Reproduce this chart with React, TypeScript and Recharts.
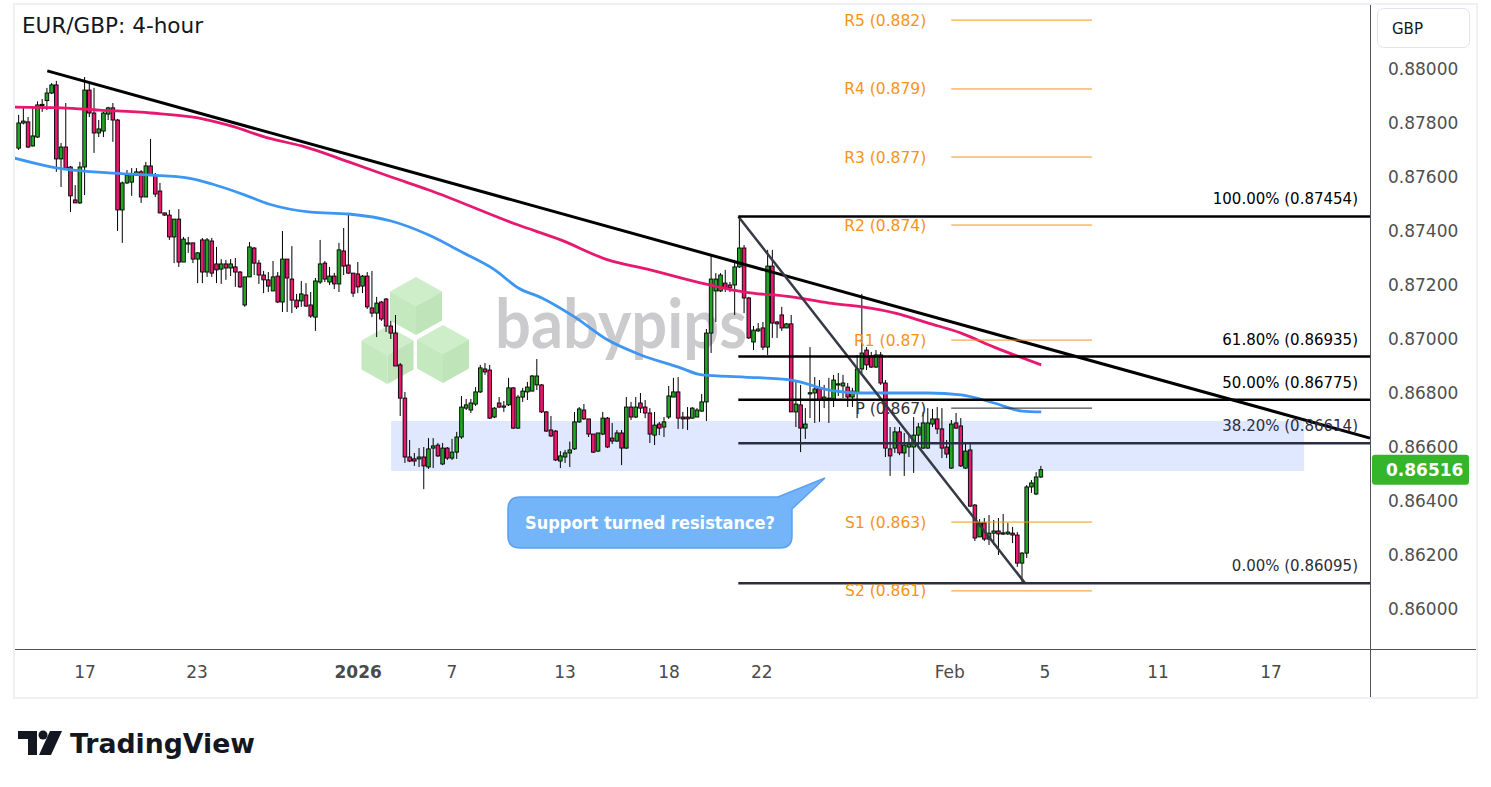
import React from "react";
import { ComposedChart, Bar, Line, XAxis, YAxis, ReferenceLine, ReferenceArea } from "recharts";

const FONT = "DejaVu Sans";
const GREEN = "#22a523";
const PINK = "#e8186f";

// 4-hour candles
const opens = [
  0.87707, 0.878, 0.87804, 0.87715, 0.87748, 0.87867, 0.87883, 0.87911, 0.87941, 0.87667,
  0.87711, 0.87637, 0.87515, 0.87504, 0.87637, 0.87922, 0.87837, 0.87763, 0.8777, 0.87833,
  0.87856, 0.87811, 0.87478, 0.87578, 0.87581, 0.87607, 0.87619, 0.87526, 0.87641, 0.87607,
  0.87548, 0.87467, 0.87459, 0.87378, 0.87444, 0.87285, 0.87352, 0.87356, 0.87296, 0.87367,
  0.87248, 0.87363, 0.87278, 0.87259, 0.87278, 0.87263, 0.87267, 0.87248, 0.87126, 0.8723,
  0.87337, 0.87281, 0.87237, 0.87219, 0.87178, 0.87233, 0.87137, 0.87296, 0.87222, 0.87144,
  0.87141, 0.87163, 0.87126, 0.87081, 0.87211, 0.87281, 0.87211, 0.87233, 0.87204, 0.87326,
  0.87274, 0.87244, 0.87241, 0.87196, 0.87233, 0.87115, 0.87096, 0.87137, 0.87148, 0.87048,
  0.87022, 0.86904, 0.86781, 0.86563, 0.86556, 0.86556, 0.86563, 0.86526, 0.86596, 0.86607,
  0.86537, 0.86596, 0.86559, 0.86581, 0.86637, 0.86744, 0.86737, 0.86759, 0.86804, 0.86889,
  0.86885, 0.86711, 0.86763, 0.86752, 0.86756, 0.86819, 0.8667, 0.86785, 0.86804, 0.86807,
  0.8683, 0.8683, 0.8673, 0.86663, 0.86659, 0.86548, 0.86563, 0.86578, 0.86593, 0.86693,
  0.86737, 0.86704, 0.86648, 0.86585, 0.86648, 0.86707, 0.86633, 0.86622, 0.86652, 0.86596,
  0.86748, 0.86711, 0.86763, 0.86748, 0.86726, 0.86644, 0.86685, 0.86674, 0.86711, 0.86785,
  0.86804, 0.86711, 0.86711, 0.86707, 0.86711, 0.86733, 0.86767, 0.87022, 0.87178, 0.87178,
  0.87207, 0.872, 0.872, 0.87267, 0.87337, 0.87152, 0.86989, 0.8703, 0.87041, 0.8697,
  0.8727, 0.87063, 0.87089, 0.87041, 0.87056, 0.8673, 0.86756, 0.8667, 0.868, 0.868,
  0.86819, 0.86774, 0.86781, 0.86778, 0.86833, 0.86826, 0.86822, 0.86785, 0.86804, 0.86889,
  0.86959, 0.86937, 0.86896, 0.86941, 0.86837, 0.86593, 0.86596, 0.86656, 0.86578, 0.866,
  0.866, 0.86644, 0.86596, 0.86596, 0.86685, 0.86704, 0.86667, 0.866, 0.86522, 0.86689,
  0.86678, 0.86522, 0.86589, 0.86385, 0.86267, 0.86319, 0.86259, 0.86281, 0.86289, 0.86281,
  0.86278, 0.86281, 0.86274, 0.8617, 0.86207, 0.86452, 0.86426, 0.86489,
];
const highs = [
  0.8783, 0.87856, 0.87822, 0.87856, 0.8788, 0.87889, 0.8793, 0.87948, 0.87956, 0.87726,
  0.87874, 0.87641, 0.8757, 0.87656, 0.8797, 0.87952, 0.8793, 0.87811, 0.87841, 0.8786,
  0.87874, 0.87815, 0.87583, 0.87626, 0.87633, 0.87633, 0.87626, 0.87656, 0.87741, 0.87615,
  0.87578, 0.87467, 0.87478, 0.87444, 0.87481, 0.87378, 0.87378, 0.87356, 0.87322, 0.87374,
  0.87374, 0.87374, 0.87341, 0.87296, 0.87293, 0.87296, 0.873, 0.87252, 0.8723, 0.87359,
  0.87341, 0.87293, 0.87252, 0.87248, 0.87289, 0.87248, 0.874, 0.87296, 0.87344, 0.87167,
  0.87215, 0.87207, 0.87174, 0.87226, 0.87367, 0.87289, 0.87267, 0.87245, 0.87356, 0.87411,
  0.87463, 0.87244, 0.87285, 0.87237, 0.87248, 0.87252, 0.87156, 0.87141, 0.87152, 0.87067,
  0.87089, 0.86911, 0.86804, 0.86626, 0.86578, 0.86596, 0.866, 0.86633, 0.86633, 0.86615,
  0.86615, 0.866, 0.8663, 0.86656, 0.86789, 0.86778, 0.86778, 0.86822, 0.86904, 0.86911,
  0.86904, 0.86748, 0.86785, 0.8677, 0.86856, 0.86822, 0.86793, 0.86819, 0.86841, 0.86867,
  0.86926, 0.86833, 0.86733, 0.86715, 0.86663, 0.86585, 0.86589, 0.8662, 0.8673, 0.86748,
  0.86759, 0.86704, 0.86648, 0.86652, 0.8673, 0.86711, 0.86689, 0.86663, 0.86663, 0.86785,
  0.86767, 0.86785, 0.868, 0.86774, 0.86744, 0.8673, 0.86693, 0.86711, 0.86826, 0.86856,
  0.86859, 0.8673, 0.86748, 0.86748, 0.86744, 0.86796, 0.87037, 0.87311, 0.87244, 0.87244,
  0.87256, 0.87211, 0.87293, 0.87454, 0.87348, 0.87156, 0.87048, 0.87059, 0.87063, 0.8733,
  0.8733, 0.87067, 0.87119, 0.87059, 0.87089, 0.86841, 0.8683, 0.86744, 0.8697, 0.86859,
  0.86848, 0.8683, 0.86856, 0.86867, 0.86874, 0.86867, 0.86837, 0.86819, 0.86941, 0.87167,
  0.8697, 0.86952, 0.86959, 0.86952, 0.86848, 0.86674, 0.86674, 0.86674, 0.86652, 0.86644,
  0.86711, 0.86689, 0.8673, 0.86744, 0.86741, 0.86748, 0.86744, 0.86626, 0.867, 0.86726,
  0.86707, 0.86615, 0.86615, 0.86389, 0.86333, 0.86337, 0.86348, 0.8633, 0.86337, 0.86352,
  0.86319, 0.86304, 0.86285, 0.86211, 0.86459, 0.86478, 0.86507, 0.8653,
];
const lows = [
  0.877, 0.87795, 0.87707, 0.87713, 0.87745, 0.87841, 0.87848, 0.87907, 0.87619, 0.87563,
  0.87626, 0.8747, 0.87504, 0.875, 0.87533, 0.87822, 0.87689, 0.87748, 0.87748, 0.87811,
  0.8773, 0.874, 0.87356, 0.87574, 0.8753, 0.87604, 0.87504, 0.87526, 0.87604, 0.87526,
  0.87465, 0.87456, 0.87367, 0.87281, 0.87267, 0.87285, 0.87319, 0.87281, 0.87207, 0.87207,
  0.8723, 0.8723, 0.87207, 0.87204, 0.87219, 0.87233, 0.87193, 0.87189, 0.87119, 0.8723,
  0.87237, 0.87204, 0.8717, 0.87174, 0.87178, 0.87133, 0.871, 0.871, 0.87096, 0.87111,
  0.87119, 0.87119, 0.87078, 0.8703, 0.87204, 0.87211, 0.872, 0.87185, 0.87174, 0.87237,
  0.87241, 0.87156, 0.8717, 0.8717, 0.87111, 0.87081, 0.87007, 0.87067, 0.87026, 0.87,
  0.869, 0.86715, 0.86541, 0.86544, 0.8653, 0.86526, 0.86444, 0.86519, 0.86522, 0.86563,
  0.86533, 0.86552, 0.86552, 0.86556, 0.8663, 0.86737, 0.86726, 0.86752, 0.868, 0.86867,
  0.86704, 0.86707, 0.86744, 0.8673, 0.86752, 0.86667, 0.86667, 0.86767, 0.86774, 0.86807,
  0.86811, 0.86726, 0.86656, 0.86637, 0.86548, 0.86522, 0.86541, 0.86526, 0.86589, 0.86689,
  0.867, 0.86637, 0.86578, 0.86581, 0.86644, 0.86596, 0.86611, 0.86619, 0.86533, 0.86593,
  0.867, 0.86707, 0.86726, 0.86707, 0.86615, 0.86607, 0.86644, 0.86637, 0.86704, 0.86785,
  0.86667, 0.86667, 0.86663, 0.86704, 0.86711, 0.8673, 0.86696, 0.86948, 0.87063, 0.87174,
  0.87174, 0.87174, 0.87089, 0.87263, 0.87096, 0.87, 0.86959, 0.87026, 0.86959, 0.86941,
  0.87004, 0.87004, 0.8703, 0.87041, 0.8673, 0.86674, 0.86581, 0.8663, 0.86707, 0.86689,
  0.86693, 0.86744, 0.86689, 0.86748, 0.86789, 0.86781, 0.86748, 0.86748, 0.86707, 0.86874,
  0.86885, 0.86893, 0.86893, 0.8683, 0.86563, 0.86493, 0.86578, 0.8657, 0.86493, 0.86563,
  0.86504, 0.866, 0.86593, 0.86593, 0.86674, 0.86648, 0.86559, 0.86559, 0.86519, 0.86667,
  0.86526, 0.86519, 0.86378, 0.86252, 0.86267, 0.86252, 0.86237, 0.86237, 0.862, 0.86274,
  0.86274, 0.86244, 0.86156, 0.86095, 0.86189, 0.8643, 0.86422, 0.86485,
];
const closes = [
  0.878, 0.87807, 0.87711, 0.87752, 0.87867, 0.87869, 0.87911, 0.87941, 0.87667, 0.87711,
  0.87633, 0.8753, 0.87504, 0.87637, 0.87922, 0.87837, 0.87763, 0.87778, 0.87837, 0.87856,
  0.87811, 0.87478, 0.87578, 0.87607, 0.87611, 0.87619, 0.87526, 0.87641, 0.87607, 0.87537,
  0.87467, 0.87459, 0.87378, 0.87444, 0.87285, 0.8737, 0.87356, 0.87296, 0.87319, 0.87248,
  0.87367, 0.87244, 0.87256, 0.87278, 0.87263, 0.87278, 0.87248, 0.87193, 0.8723, 0.87341,
  0.87281, 0.87237, 0.87219, 0.87196, 0.8723, 0.87137, 0.87296, 0.87226, 0.87144, 0.87119,
  0.87167, 0.87122, 0.87085, 0.87215, 0.87278, 0.87222, 0.87233, 0.87204, 0.8733, 0.8727,
  0.87244, 0.8717, 0.87193, 0.87233, 0.87119, 0.87096, 0.87133, 0.87074, 0.87048, 0.87022,
  0.869, 0.86781, 0.86563, 0.86548, 0.86548, 0.86563, 0.8653, 0.86593, 0.86604, 0.86567,
  0.86596, 0.86559, 0.86581, 0.86637, 0.86748, 0.86756, 0.86763, 0.86804, 0.86893, 0.86878,
  0.86707, 0.86744, 0.86748, 0.86752, 0.86819, 0.8667, 0.86785, 0.86807, 0.86822, 0.86863,
  0.86863, 0.8673, 0.86659, 0.86641, 0.86552, 0.86567, 0.86578, 0.86589, 0.86693, 0.86741,
  0.86704, 0.86648, 0.86581, 0.86652, 0.86707, 0.866, 0.86622, 0.86652, 0.86596, 0.86748,
  0.86711, 0.86748, 0.86744, 0.86726, 0.86648, 0.86681, 0.8667, 0.86693, 0.86789, 0.86804,
  0.86707, 0.86704, 0.86704, 0.86744, 0.86737, 0.86767, 0.87022, 0.87222, 0.87222, 0.87237,
  0.87189, 0.87189, 0.87267, 0.87337, 0.87152, 0.87004, 0.87033, 0.87037, 0.8697, 0.8727,
  0.87059, 0.87056, 0.87041, 0.87056, 0.8673, 0.86759, 0.8667, 0.86685, 0.86801, 0.86815,
  0.86774, 0.86785, 0.86778, 0.86848, 0.86834, 0.86837, 0.86785, 0.86807, 0.86889, 0.86948,
  0.86904, 0.86896, 0.86941, 0.86837, 0.86596, 0.86567, 0.86656, 0.86578, 0.86607, 0.86611,
  0.86644, 0.86674, 0.86689, 0.86689, 0.86704, 0.86667, 0.86596, 0.86574, 0.86685, 0.8667,
  0.8653, 0.86585, 0.86381, 0.86263, 0.86319, 0.86259, 0.86281, 0.86289, 0.86278, 0.86282,
  0.86285, 0.86274, 0.8617, 0.86207, 0.86452, 0.86467, 0.86489, 0.86516,
];

// moving averages (read at a set of candle positions)
const slowMaIdx = [-1, 9, 17, 28, 38, 45, 53, 60, 70, 79, 87, 106, 115, 125, 134, 144, 154, 164, 172, 179, 186, 193, 200, 207, 217];
const slowMaVals = [
  0.87859, 0.87856, 0.87848, 0.87837, 0.87819, 0.87789, 0.87744, 0.87715, 0.87656, 0.876,
  0.87552, 0.87422, 0.87367, 0.87293, 0.87256, 0.87211, 0.87174, 0.87156, 0.87133, 0.87119,
  0.87096, 0.87059, 0.87022, 0.8697, 0.86904,
];
const fastMaIdx = [-1, 7, 19, 28, 36, 41, 48, 53, 62, 70, 79, 87, 94, 101, 106, 111, 118, 125, 132, 140, 145, 154, 164, 172, 179, 193, 200, 207, 213, 217];
const fastMaVals = [
  0.8767, 0.87637, 0.87615, 0.87607, 0.87596, 0.87574, 0.87533, 0.875, 0.8747, 0.87463,
  0.87437, 0.87385, 0.87322, 0.87256, 0.87189, 0.87152, 0.87081, 0.86996, 0.86941, 0.86896,
  0.86867, 0.86859, 0.86848, 0.86811, 0.868, 0.868, 0.86793, 0.86763, 0.86733, 0.8673,
];

const xTicks = [14, 37.8, 72, 91.9, 115.9, 138, 157.7, 197.6, 217.8, 241.8, 265.8];
const xLabels = ["17", "23", "2026", "7", "13", "18", "22", "Feb", "5", "11", "17"];
const priceTicks = [0.86, 0.862, 0.864, 0.866, 0.868, 0.87, 0.872, 0.874, 0.876, 0.878, 0.88];

const trendFrom = { i: 6, p: 0.87993 };
const trendTo = { i: 286.8, p: 0.86633 };
const swingHigh = { i: 152.7, p: 0.87454 };
const swingLow = { i: 213.6, p: 0.86095 };

const fibPct = ["100.00%", "61.80%", "50.00%", "38.20%", "0.00%"];
const fibLevels = [0.87454, 0.86935, 0.86775, 0.86614, 0.86095];
const fibColors = ["#000000", "#000000", "#000000", "#2a2e45", "#2a2e39"];

const pivotNames = ["R5", "R4", "R3", "R2", "R1", "P", "S1", "S2"];
const pivotText = ["0.882", "0.879", "0.877", "0.874", "0.87", "0.867", "0.863", "0.861"];
const pivotLevels = [0.88181, 0.87926, 0.87674, 0.87422, 0.86996, 0.86744, 0.86322, 0.86067];
const pivotSpan = [197.9, 227.8];

const zone = { from: 79, to: 272.8, low: 0.86511, high: 0.86696 };
const lastPrice = 0.86516;

const X_DOMAIN: [number, number] = [-0.85, 286.8];
const Y_DOMAIN: [number, number] = [0.858519, 0.88237];

const candles = opens.map((o, i) => ({ i, open: o, high: highs[i], low: lows[i], close: closes[i] }));
const slowMa = slowMaIdx.map((i, k) => ({ i, v: slowMaVals[k] }));
const fastMa = fastMaIdx.map((i, k) => ({ i, v: fastMaVals[k] }));

function Candle(props: any) {
  const { x, y, width, height, payload } = props;
  if (x == null || y == null || !payload) return null;
  const top = Math.min(y, y + height);
  const bottom = Math.max(y, y + height);
  const range = payload.high - payload.low;
  const toPx = (p: number) => (range > 0 ? top + ((payload.high - p) / range) * (bottom - top) : top);
  const cx = x + width / 2;
  const o = toPx(payload.open);
  const c = toPx(payload.close);
  const up = payload.close >= payload.open;
  return (
    <g>
      <line x1={cx} x2={cx} y1={top} y2={bottom} stroke="#000" strokeWidth={1} />
      <rect
        x={cx - 1.8}
        y={Math.min(o, c)}
        width={3.6}
        height={Math.max(Math.abs(o - c), 1.2)}
        fill={up ? GREEN : PINK}
        stroke="#000"
        strokeWidth={0.9}
      />
    </g>
  );
}

function DateTick(props: any) {
  const { x, y, payload } = props;
  const k = xTicks.indexOf(payload.value);
  const label = k >= 0 ? xLabels[k] : "";
  return (
    <text
      x={x}
      y={y}
      dy="0.71em"
      textAnchor="middle"
      fill="#4a4a4a"
      fontSize={17}
      fontFamily={FONT}
      fontWeight={label === "2026" ? 700 : 400}
    >
      {label}
    </text>
  );
}

function PriceTag(props: any) {
  const vb = props.viewBox;
  if (!vb) return null;
  const left = vb.x + vb.width + 2;
  return (
    <g>
      <rect x={left} y={vb.y - 15} width={97} height={30} rx={3} fill="#35b52a" />
      <text x={left + 14} y={vb.y} dy="0.36em" fill="#fff" fontSize={17} fontWeight={700} fontFamily={FONT}>
        {lastPrice.toFixed(5)}
      </text>
    </g>
  );
}

function Watermark() {
  const cube = (cx: number, cy: number, key: string) => (
    <g key={key}>
      <polygon points={`${cx},${cy - 29} ${cx + 26},${cy - 14.5} ${cx},${cy} ${cx - 26},${cy - 14.5}`} fill="#cdeec9" />
      <polygon points={`${cx - 26},${cy - 14.5} ${cx},${cy} ${cx},${cy + 29} ${cx - 26},${cy + 14.5}`} fill="#c4e9bf" />
      <polygon points={`${cx},${cy} ${cx + 26},${cy - 14.5} ${cx + 26},${cy + 14.5} ${cx},${cy + 29}`} fill="#bfe4ba" />
    </g>
  );
  return (
    <svg width={1491} height={787} style={{ position: "absolute", left: 0, top: 0 }}>
      {cube(416, 306, "a")}
      {cube(387.5, 355, "b")}
      {cube(443, 354, "c")}
      <text x={495} y={348} fontSize={68} fontWeight={700} fontFamily="Lato" fill="#cbcbcd" textLength={252} lengthAdjust="spacingAndGlyphs">
        babypips
      </text>
    </svg>
  );
}

function Overlay() {
  return (
    <svg width={1491} height={787} style={{ position: "absolute", left: 0, top: 0, pointerEvents: "none" }}>
      <rect x={14} y={4} width={1463} height={694} fill="none" stroke="#eef0f4" strokeWidth={2} />
      <line x1={1370.5} x2={1370.5} y1={5} y2={697} stroke="#50535e" strokeWidth={1} />
      <line x1={15} x2={1476} y1={649.5} y2={649.5} stroke="#50535e" strokeWidth={1} />
      <text x={22} y={33} fontSize={21.5} fontFamily={FONT} fill="#131722" textLength={181} lengthAdjust="spacingAndGlyphs">
        EUR/GBP: 4-hour
      </text>
      <rect x={1377.5} y={8.5} width={92} height={39} rx={6} fill="#fff" stroke="#e0e3eb" />
      <text x={1392} y={34} fontSize={15} fontFamily={FONT} fill="#131722">
        GBP
      </text>
      <path
        d="M520,497 H778 L825,478 L792,509 V536 Q792,548 780,548 H520 Q508,548 508,536 V509 Q508,497 520,497 Z"
        fill="#74b4f8"
        stroke="#5aa0ef"
        strokeWidth={1.5}
      />
      <text x={525} y={529} fontSize={17} fontWeight={600} fontFamily={FONT} fill="#fff" textLength={250} lengthAdjust="spacingAndGlyphs">
        Support turned resistance?
      </text>
      <g fill="#131722">
        <rect x={18} y={731} width={19} height={8} />
        <rect x={28} y={731} width={9} height={24} />
        <circle cx={43} cy={735} r={4.5} />
        <polygon points="50,731 62,731 51,755 39,755" />
      </g>
      <text x={70} y={753} fontSize={27} fontWeight={700} fontFamily={FONT} fill="#131722" textLength={185} lengthAdjust="spacingAndGlyphs">
        TradingView
      </text>
    </svg>
  );
}

export default function App() {
  return (
    <div style={{ position: "absolute", left: 0, top: 0, width: 1491, height: 787, background: "#fff", overflow: "hidden" }}>
      <Watermark />
      <div style={{ position: "absolute", left: 0, top: 0 }}>
        <ComposedChart width={1491} height={787} data={candles} margin={{ top: 5, right: 21, bottom: 90, left: 15 }}>
          <XAxis
            dataKey="i"
            type="number"
            domain={X_DOMAIN}
            allowDataOverflow
            ticks={xTicks}
            interval={0}
            tick={<DateTick />}
            tickSize={0}
            tickMargin={17}
            axisLine={false}
            tickLine={false}
            height={48}
          />
          <YAxis
            orientation="right"
            type="number"
            domain={Y_DOMAIN}
            allowDataOverflow
            ticks={priceTicks}
            interval={0}
            tickFormatter={(v: number) => v.toFixed(5)}
            tick={{ fill: "#4f4f4f", fontSize: 17, fontFamily: FONT }}
            tickSize={0}
            tickMargin={18}
            axisLine={false}
            tickLine={false}
            width={100}
          />
          <ReferenceArea
            x1={zone.from}
            x2={zone.to}
            y1={zone.low}
            y2={zone.high}
            fill="#2962ff"
            fillOpacity={0.15}
            stroke="none"
          />
          <Bar
            dataKey={(d: any) => [d.low, d.high]}
            barSize={4}
            shape={(p: any) => <Candle {...p} />}
            isAnimationActive={false}
          />
          <Line data={fastMa} dataKey="v" type="monotone" stroke="#3d96f2" strokeWidth={2.8} dot={false} connectNulls isAnimationActive={false} />
          <Line data={slowMa} dataKey="v" type="monotone" stroke="#e6186f" strokeWidth={2.8} dot={false} connectNulls isAnimationActive={false} />
          <ReferenceLine
            segment={[{ x: trendFrom.i, y: trendFrom.p }, { x: trendTo.i, y: trendTo.p }]}
            stroke="#000"
            strokeWidth={3}
          />
          <ReferenceLine
            segment={[{ x: swingHigh.i, y: swingHigh.p }, { x: swingLow.i, y: swingLow.p }]}
            stroke="#363a45"
            strokeWidth={2.5}
          />
          {fibLevels.map((lv, k) => (
            <ReferenceLine
              key={"fib" + k}
              segment={[{ x: swingHigh.i, y: lv }, { x: X_DOMAIN[1], y: lv }]}
              stroke={fibColors[k]}
              strokeWidth={2.5}
              label={{
                value: `${fibPct[k]} (${lv.toFixed(5)})`,
                position: "insideBottomRight",
                offset: 12,
                fill: fibColors[k],
                fontSize: 15,
                fontFamily: FONT,
              }}
            />
          ))}
          {pivotLevels.map((lv, k) => (
            <ReferenceLine
              key={"pv" + k}
              segment={[{ x: pivotSpan[0], y: lv }, { x: pivotSpan[1], y: lv }]}
              stroke={pivotNames[k] === "P" ? "#222" : "#f7931a"}
              strokeWidth={1}
              ifOverflow="visible"
              label={{
                value: `${pivotNames[k]} (${pivotText[k]})`,
                position: "left",
                offset: 25,
                fill: pivotNames[k] === "P" ? "#333" : "#f7931a",
                fontSize: 15.5,
                fontFamily: FONT,
              }}
            />
          ))}
          <ReferenceLine y={lastPrice} stroke="none" label={{ content: (p: any) => <PriceTag {...p} /> }} />
        </ComposedChart>
      </div>
      <Overlay />
    </div>
  );
}
